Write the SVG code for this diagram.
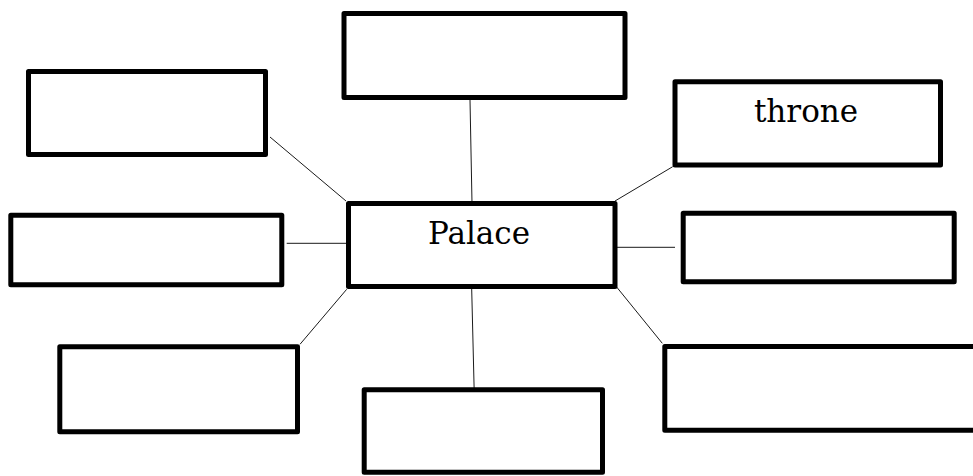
<svg xmlns="http://www.w3.org/2000/svg" width="973" height="476" viewBox="0 0 973 476">
<style>
.box{fill:#fff;stroke:#000;stroke-width:5;stroke-linejoin:round}
.lnk{stroke:#1a1a1a;stroke-width:1;fill:none}
.lbl{font-family:"DejaVu Serif","Liberation Serif",serif;font-size:31px;fill:#000;text-anchor:middle}
</style>
<rect width="973" height="476" fill="#fff"/>
<g id="connectors">
<line class="lnk" x1="470" y1="100" x2="472" y2="203"/>
<line class="lnk" x1="270" y1="137" x2="346" y2="201"/>
<line class="lnk" x1="672.7" y1="166.7" x2="615" y2="201"/>
<line class="lnk" x1="286.7" y1="243.3" x2="346" y2="243.3"/>
<line class="lnk" x1="616" y1="247.3" x2="675" y2="247.3"/>
<line class="lnk" x1="300" y1="344.3" x2="346.7" y2="289.3"/>
<line class="lnk" x1="471.7" y1="289" x2="474.3" y2="395.7"/>
<line class="lnk" x1="615" y1="285" x2="662.3" y2="343.3"/>
</g>
<g id="node-top"><rect class="box" x="344" y="13.5" width="281" height="84"/></g>
<g id="node-topleft"><rect class="box" x="28.5" y="71.5" width="237" height="83"/></g>
<g id="node-throne"><rect class="box" x="675" y="81.7" width="265.5" height="83.3"/><text class="lbl" x="806" y="121.5">throne</text></g>
<g id="node-left"><rect class="box" x="10.8" y="215.2" width="271" height="69.6"/></g>
<g id="node-right"><rect class="box" x="683.2" y="213.2" width="271" height="68.6"/></g>
<g id="node-center"><rect class="box" x="348.5" y="203.5" width="266.5" height="83"/><text class="lbl" x="479" y="244">Palace</text></g>
<g id="node-bottomleft"><rect class="box" x="59.8" y="346.8" width="237.7" height="85"/></g>
<g id="node-bottom"><rect class="box" x="364.2" y="389.8" width="238.3" height="82.5"/></g>
<g id="node-bottomright"><rect class="box" x="664.8" y="346.5" width="320" height="83.7"/></g>
</svg>
